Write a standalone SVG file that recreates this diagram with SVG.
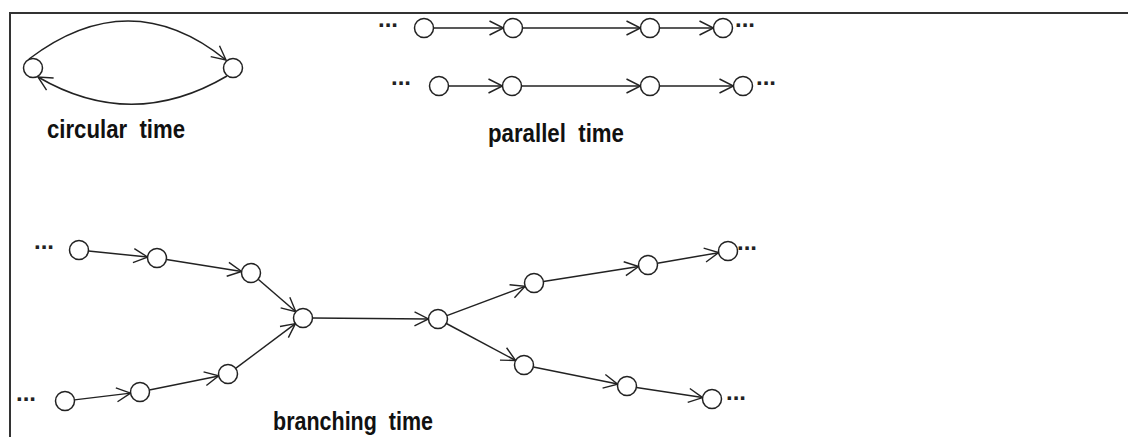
<svg xmlns="http://www.w3.org/2000/svg" width="1128" height="437" viewBox="0 0 1128 437">
<defs>
<marker id="arr" markerUnits="userSpaceOnUse" markerWidth="30" markerHeight="30" viewBox="-15 -15 30 30" refX="0" refY="0" orient="auto" overflow="visible">
<path d="M-14,-7 L0,0 L-14,7" fill="none" stroke="#222" stroke-width="1.4"/>
</marker>
</defs>
<style>
.frame{stroke:#333;stroke-width:2;fill:none}
.n{fill:#fff;stroke:#222;stroke-width:1.5}
.e{stroke:#222;stroke-width:1.5;fill:none;marker-end:url(#arr)}
.lbl{font-family:"Liberation Sans",Arial,sans-serif;font-weight:bold;font-size:25px;fill:#111}
.dots{font-family:"Liberation Sans",Arial,sans-serif;font-weight:bold;font-size:24px;fill:#222}
</style>
<rect width="1128" height="437" fill="#fff"/>
<path class="frame" d="M10,437 L10,13 L1128,13"/>

<g id="connectors">
<path class="e" d="M29,59 Q130,-17.5 226,60"/>
<path class="e" d="M227,76 Q132,132 38,77"/>
<line class="e" x1="433.5" y1="28" x2="503.5" y2="28"/>
<line class="e" x1="522.5" y1="28" x2="640.5" y2="28"/>
<line class="e" x1="659.5" y1="28" x2="713.5" y2="28"/>
<line class="e" x1="448.5" y1="86" x2="502.5" y2="86"/>
<line class="e" x1="521.5" y1="86" x2="640.5" y2="86"/>
<line class="e" x1="659.5" y1="86" x2="733.5" y2="86"/>
<line class="e" x1="88.45" y1="250.97" x2="147.55" y2="257.03"/>
<line class="e" x1="166.38" y1="259.5" x2="241.62" y2="271.5"/>
<line class="e" x1="258.18" y1="279.22" x2="295.82" y2="311.78"/>
<line class="e" x1="74.43" y1="399.87" x2="130.57" y2="393.13"/>
<line class="e" x1="149.31" y1="390.1" x2="218.69" y2="375.9"/>
<line class="e" x1="235.61" y1="368.32" x2="295.39" y2="323.68"/>
<line class="e" x1="312.5" y1="318.07" x2="428.5" y2="318.93"/>
<line class="e" x1="446.89" y1="315.66" x2="525.11" y2="286.34"/>
<line class="e" x1="543.38" y1="281.52" x2="638.62" y2="266.48"/>
<line class="e" x1="657.36" y1="263.36" x2="718.64" y2="252.64"/>
<line class="e" x1="446.38" y1="323.48" x2="515.62" y2="360.52"/>
<line class="e" x1="533.31" y1="366.9" x2="617.69" y2="384.1"/>
<line class="e" x1="636.39" y1="387.44" x2="702.61" y2="397.56"/>
</g>

<g id="circular">
<circle id="c1" class="n" cx="33" cy="68" r="9.5"/>
<circle id="c2" class="n" cx="233" cy="68" r="9.5"/>
<text class="lbl" x="47" y="138" xml:space="preserve" textLength="138" lengthAdjust="spacingAndGlyphs">circular  time</text>
</g>

<g id="parallel">
<text class="dots" x="378" y="27">...</text>
<circle id="p1a" class="n" cx="424" cy="28" r="9.5"/>
<circle id="p1b" class="n" cx="513" cy="28" r="9.5"/>
<circle id="p1c" class="n" cx="650" cy="28" r="9.5"/>
<circle id="p1d" class="n" cx="723" cy="28" r="9.5"/>
<text class="dots" x="735" y="27">...</text>
<text class="dots" x="391" y="85">...</text>
<circle id="p2a" class="n" cx="439" cy="86" r="9.5"/>
<circle id="p2b" class="n" cx="512" cy="86" r="9.5"/>
<circle id="p2c" class="n" cx="650" cy="86" r="9.5"/>
<circle id="p2d" class="n" cx="743" cy="86" r="9.5"/>
<text class="dots" x="756" y="85">...</text>
<text class="lbl" x="488" y="142" xml:space="preserve" textLength="136" lengthAdjust="spacingAndGlyphs">parallel  time</text>
</g>

<g id="branching">
<text class="dots" x="34" y="249">...</text>
<g id="bA"><circle class="n" cx="79" cy="250" r="9.5"/></g>
<g id="bB"><circle class="n" cx="157" cy="258" r="9.5"/></g>
<g id="bC"><circle class="n" cx="251" cy="273" r="9.5"/></g>
<g id="bD"><circle class="n" cx="303" cy="318" r="9.5"/></g>
<text class="dots" x="16" y="401">...</text>
<g id="bE"><circle class="n" cx="65" cy="401" r="9.5"/></g>
<g id="bF"><circle class="n" cx="140" cy="392" r="9.5"/></g>
<g id="bG"><circle class="n" cx="228" cy="374" r="9.5"/></g>
<g id="bH"><circle class="n" cx="438" cy="319" r="9.5"/></g>
<g id="bI"><circle class="n" cx="534" cy="283" r="9.5"/></g>
<g id="bJ"><circle class="n" cx="648" cy="265" r="9.5"/></g>
<g id="bK"><circle class="n" cx="728" cy="251" r="9.5"/></g>
<text class="dots" x="737" y="250">...</text>
<g id="bL"><circle class="n" cx="524" cy="365" r="9.5"/></g>
<g id="bM"><circle class="n" cx="627" cy="386" r="9.5"/></g>
<g id="bN"><circle class="n" cx="712" cy="399" r="9.5"/></g>
<text class="dots" x="726" y="400">...</text>
<text class="lbl" x="273" y="430" xml:space="preserve" textLength="160" lengthAdjust="spacingAndGlyphs">branching  time</text>
</g>
</svg>
